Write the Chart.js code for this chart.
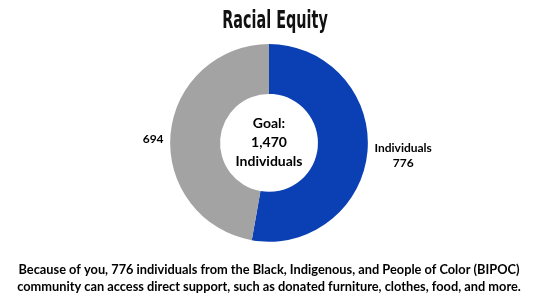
<!DOCTYPE html>
<html>
<head>
<meta charset="utf-8">
<script src="https://cdn.jsdelivr.net/npm/chart.js@4"></script>
<style>
  html, body { margin: 0; padding: 0; background: #fff; }
  #wrap { width: 550px; height: 300px; }
</style>
</head>
<body>
<div id="wrap"><canvas id="equityChart"></canvas></div>
<script>
// Racial Equity doughnut

const chartTitle = "Racial Equity";
const categories = ["Individuals", ""];
const values = [776, 694];
const sliceColors = ["#0b40b5", "#a3a3a3"];
const goalLines = ["Goal:", "1,470", "Individuals"];
const footerLines = [
    "Because of you, 776 individuals from the Black, Indigenous, and People of Color (BIPOC)",
    "community can access direct support, such as donated furniture, clothes, food, and more."
];

// condensed title, center text + outside labels
const labelPlugin = {
    id: "labelPlugin",
    afterDraw(chart) {
        const ctx = chart.ctx;
        const meta = chart.getDatasetMeta(0);
        const arc0 = meta.data[0];
        const cx = arc0.x, cy = arc0.y;

        ctx.save();
        ctx.fillStyle = "#111";
        ctx.textAlign = "center";
        ctx.textBaseline = "alphabetic";
        ctx.font = "bold 24px 'DejaVu Sans'";
        ctx.translate(275, 28);
        ctx.scale(0.6, 1);
        ctx.fillText(chartTitle, 0, 0);
        ctx.restore();

        ctx.save();
        ctx.fillStyle = "#000";
        ctx.textAlign = "center";
        ctx.textBaseline = "middle";
        ctx.font = "bold 14px Lato";
        goalLines.forEach((t, i) => {
            ctx.fillText(t, cx, cy + (i - 1) * 19);
        });

        // labels sit just outside the ring, block aligned toward it
        ctx.font = "bold 12px Lato";
        meta.data.forEach((arc, i) => {
            const mid = (arc.startAngle + arc.endAngle) / 2;
            const lines = categories[i] ? [categories[i], values[i].toLocaleString()] : [values[i].toLocaleString()];
            const w = Math.max(...lines.map(t => ctx.measureText(t).width));
            const right = Math.cos(mid) >= 0;
            const gap = 7;
            const ex = cx + Math.cos(mid) * (arc.outerRadius + gap);
            const bx = right ? ex + w / 2 : ex - w / 2;
            const by = cy + Math.sin(mid) * arc.outerRadius + 4.5;
            lines.forEach((t, j) => {
                ctx.fillText(t, bx, by + (j - (lines.length - 1) / 2) * 15);
            });
        });
        ctx.restore();
    }
};

new Chart(document.getElementById("equityChart"), {
    type: "doughnut",

    data: {
        labels: categories,
        datasets: [{
            data: values,
            backgroundColor: sliceColors,
            borderWidth: 0
        }]
    },

    options: {
        responsive: true,
        maintainAspectRatio: false,
        animation: false,
        cutout: "49.5%",
        layout: {
            padding: { right: 12, top: 44, bottom: 0 }
        },
        plugins: {
            legend: { display: false },
            tooltip: { enabled: false },
            title: { display: false },
            subtitle: {
                display: true,
                position: "bottom",
                text: footerLines,
                color: "#000",
                font: { family: "Lato", size: 12.8, weight: "bold", lineHeight: 1.3 },
                padding: { top: 20, bottom: 5 }
            }
        }
    },

    plugins: [labelPlugin]
});
</script>
</body>
</html>
